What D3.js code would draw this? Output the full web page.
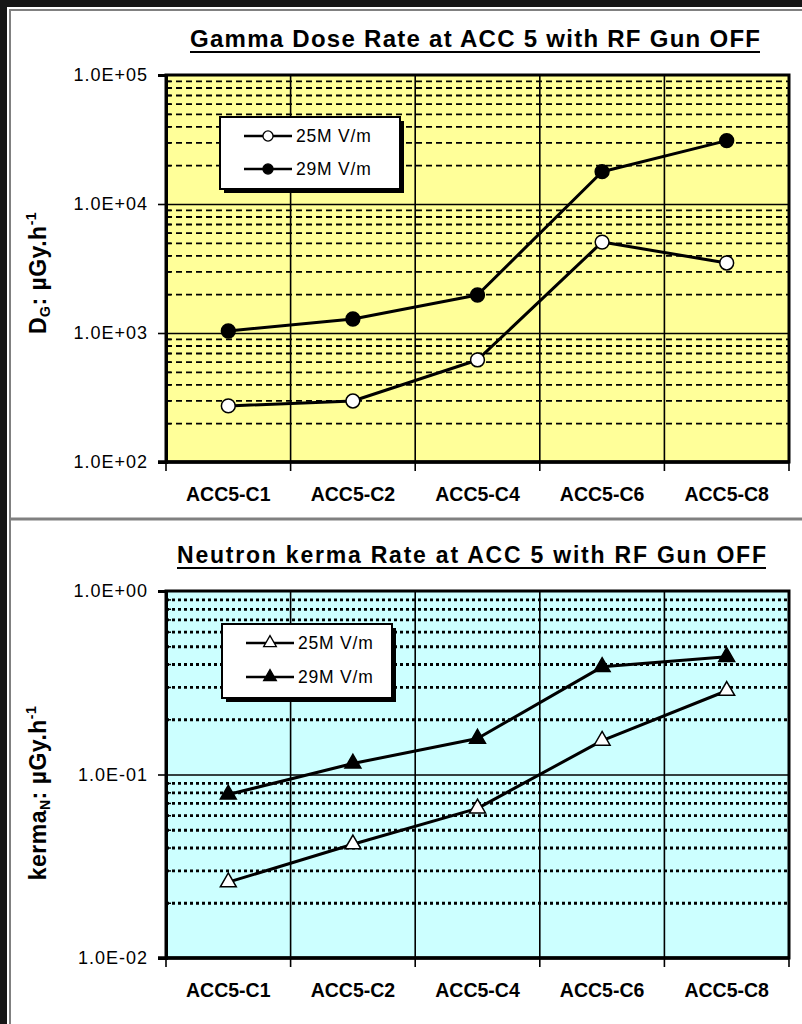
<!DOCTYPE html>
<html>
<head>
<meta charset="utf-8">
<script src="https://cdn.jsdelivr.net/npm/d3@7"></script>
<style>
html,body{margin:0;padding:0;background:#161616;}
svg{display:block;}
text{font-family:"Liberation Sans",Arial,sans-serif;fill:#000;}
</style>
</head>
<body>
<script>
// ---------------- data ----------------
const categories = ["ACC5-C1","ACC5-C2","ACC5-C4","ACC5-C6","ACC5-C8"];
const seriesNames = ["25M V/m","29M V/m"];
const gamma25 = [272, 297, 618, 5070, 3490];
const gamma29 = [1037, 1284, 1971, 17800, 31000];
const neutron25 = [0.0259, 0.0417, 0.0654, 0.153, 0.286];
const neutron29 = [0.0778, 0.1148, 0.157, 0.386, 0.438];
const gammaTickValues = [1e2, 1e3, 1e4, 1e5];
const gammaTickLabels = ["1.0E+02","1.0E+03","1.0E+04","1.0E+05"];
const neutronTickValues = [1e-2, 1e-1, 1e0];
const neutronTickLabels = ["1.0E-02","1.0E-01","1.0E+00"];
const titles = ["Gamma Dose Rate at ACC 5 with RF Gun OFF","Neutron kerma Rate at ACC 5 with RF Gun OFF"];

// ---------------- page ----------------
const W = 802, H = 1024;
const svg = d3.select("body").append("svg").attr("width", W).attr("height", H);
svg.append("rect").attr("width", W).attr("height", H).attr("fill", "#161616");
svg.append("rect").attr("x", 7).attr("y", 7).attr("width", W - 7).attr("height", H - 7).attr("fill", "#fff");
svg.append("line").attr("x1", 10).attr("x2", 10).attr("y1", 9).attr("y2", H).attr("stroke", "#808080").attr("stroke-width", 2);
svg.append("line").attr("x1", 9).attr("x2", W).attr("y1", 10).attr("y2", 10).attr("stroke", "#808080").attr("stroke-width", 2);
svg.append("line").attr("x1", 9).attr("x2", W).attr("y1", 519).attr("y2", 519).attr("stroke", "#808080").attr("stroke-width", 3);

function drawChart(cfg) {
  const g = svg.append("g");
  const x = d3.scaleBand().domain(categories).range([166, 789]).padding(0);
  const y = d3.scaleLog().domain(cfg.domain).range([cfg.bottom, cfg.top]);
  const left = 166, right = 789, w = right - left;

  g.append("rect").attr("x", left).attr("y", cfg.top).attr("width", w).attr("height", cfg.bottom - cfg.top).attr("fill", cfg.bg);

  // minor values
  const minors = [];
  const lo = Math.round(Math.log10(cfg.domain[0])), hi = Math.round(Math.log10(cfg.domain[1]));
  for (let d = lo; d < hi; d++) for (let k = 2; k <= 9; k++) minors.push(k * Math.pow(10, d));
  const innerMajors = cfg.tickValues.slice(1, -1);

  // minor gridlines
  const gMinor = g.append("g").attr("transform", `translate(${left},0)`)
    .call(d3.axisLeft(y).tickValues(minors).tickSize(-w).tickFormat(""));
  gMinor.select(".domain").remove();
  gMinor.selectAll("line").attr("stroke", "#000").attr("stroke-width", cfg.minorWidth).attr("stroke-dasharray", cfg.dash);

  // major gridlines
  const gMajor = g.append("g").attr("transform", `translate(${left},0)`)
    .call(d3.axisLeft(y).tickValues(innerMajors).tickSize(-w).tickFormat(""));
  gMajor.select(".domain").remove();
  gMajor.selectAll("line").attr("stroke", "#000").attr("stroke-width", 1.6);

  // vertical gridlines at category boundaries
  const bounds = categories.slice(1).map(c => x(c));
  g.append("g").selectAll("line").data(bounds).join("line")
    .attr("x1", d => d).attr("x2", d => d).attr("y1", cfg.top).attr("y2", cfg.bottom)
    .attr("stroke", "#000").attr("stroke-width", 1.6);

  // plot border
  g.append("rect").attr("x", left).attr("y", cfg.top).attr("width", w).attr("height", cfg.bottom - cfg.top)
    .attr("fill", "none").attr("stroke", "#000").attr("stroke-width", 3);

  // minor ticks inside
  const gMinTick = g.append("g").attr("transform", `translate(${left},0)`)
    .call(d3.axisRight(y).tickValues(minors).tickSize(5).tickFormat(""));
  gMinTick.select(".domain").remove();
  gMinTick.selectAll("line").attr("stroke", "#000").attr("stroke-width", 1.5);

  // y axis with labels
  const gy = g.append("g").attr("transform", `translate(${left},0)`)
    .call(d3.axisLeft(y).tickValues(cfg.tickValues).tickSize(8).tickPadding(10)
      .tickFormat((d, i) => cfg.tickLabels[i]));
  gy.select(".domain").attr("stroke", "#000").attr("stroke-width", 3);
  gy.selectAll("line").attr("stroke", "#000").attr("stroke-width", 1.6);
  gy.selectAll("text").attr("font-size", 18).attr("letter-spacing", "1px")
    .attr("font-family", '"Liberation Sans",Arial,sans-serif').attr("fill", "#000");

  // x axis: ticks at boundaries, labels centered
  const boundsAll = categories.map(c => x(c)).concat([right]);
  g.append("g").selectAll("line").data(boundsAll).join("line")
    .attr("x1", d => d).attr("x2", d => d).attr("y1", cfg.bottom).attr("y2", cfg.bottom + 9)
    .attr("stroke", "#000").attr("stroke-width", 1.6);
  g.append("line").attr("x1", left - 8).attr("x2", right).attr("y1", cfg.bottom).attr("y2", cfg.bottom)
    .attr("stroke", "#000").attr("stroke-width", 3.5);
  g.append("g").selectAll("text").data(categories).join("text")
    .attr("x", d => x(d) + x.bandwidth() / 2).attr("y", cfg.bottom + 32).attr("dy", "0.35em")
    .attr("text-anchor", "middle").attr("font-weight", "bold").attr("font-size", 19.5)
    .text(d => d);

  // title
  g.append("text").attr("x", cfg.titleX).attr("y", cfg.titleY)
    .attr("font-weight", "bold").attr("font-size", cfg.titleSize)
    .attr("textLength", cfg.titleLen).attr("lengthAdjust", "spacing")
    .text(cfg.title);
  g.append("line").attr("x1", cfg.titleX).attr("x2", cfg.titleX + cfg.titleLen)
    .attr("y1", cfg.titleY + 5).attr("y2", cfg.titleY + 5).attr("stroke", "#000").attr("stroke-width", 2.2);

  // y title
  const yt = g.append("text").attr("transform", `translate(46,${cfg.yTitleC}) rotate(-90)`)
    .attr("text-anchor", "middle").attr("font-weight", "bold").attr("font-size", 23)
    .attr("letter-spacing", "0.5px");
  yt.append("tspan").text(cfg.yMain);
  yt.append("tspan").attr("font-size", 14).attr("dy", 4).text(cfg.ySub);
  yt.append("tspan").attr("dy", -4).text(": \u00b5Gy.h");
  yt.append("tspan").attr("font-size", 14).attr("dy", -10).text("-1");

  // series
  const line = d3.line().x((d, i) => x(categories[i]) + x.bandwidth() / 2).y(d => y(d));
  cfg.series.forEach((s, si) => {
    g.append("path").datum(s).attr("d", line).attr("fill", "none")
      .attr("stroke", "#000").attr("stroke-width", 3).attr("stroke-linejoin", "round");
    g.append("g").selectAll("path").data(s).join("path")
      .attr("transform", (d, i) => `translate(${x(categories[i]) + x.bandwidth() / 2},${y(d)})`)
      .attr("d", d3.symbol().type(cfg.symbol).size(cfg.symSize))
      .attr("fill", si === 0 ? "#fff" : "#000").attr("stroke", "#000").attr("stroke-width", 1.5);
  });

  // legend
  const L = cfg.legend;
  g.append("rect").attr("x", L.x + 4).attr("y", L.y + 4).attr("width", L.w).attr("height", L.h).attr("fill", "#000");
  g.append("rect").attr("x", L.x).attr("y", L.y).attr("width", L.w).attr("height", L.h)
    .attr("fill", "#fff").attr("stroke", "#000").attr("stroke-width", 2);
  seriesNames.forEach((n, si) => {
    const yy = L.y + L.rowY[si];
    g.append("line").attr("x1", L.x + 24).attr("x2", L.x + 72).attr("y1", yy).attr("y2", yy)
      .attr("stroke", "#000").attr("stroke-width", 2.5);
    g.append("path").attr("transform", `translate(${L.x + 48},${yy})`)
      .attr("d", d3.symbol().type(cfg.symbol).size(cfg.legSymSize))
      .attr("fill", si === 0 ? "#fff" : "#000").attr("stroke", "#000").attr("stroke-width", 1.3);
    g.append("text").attr("x", L.x + 76).attr("y", yy).attr("dy", "0.35em")
      .attr("font-size", 17.5).attr("letter-spacing", "0.8px").text(n);
  });
}

drawChart({
  domain: [1e2, 1e5], top: 75, bottom: 462, bg: "#ffff99",
  tickValues: gammaTickValues, tickLabels: gammaTickLabels,
  dash: "6,4", minorWidth: 1.8,
  series: [gamma25, gamma29], symbol: d3.symbolCircle, symSize: 150, legSymSize: 80,
  title: titles[0], titleX: 190, titleY: 47, titleLen: 570, titleSize: 24,
  yMain: "D", ySub: "G", yTitleC: 273,
  legend: { x: 220, y: 117, w: 180, h: 72, rowY: [19, 52] }
});

drawChart({
  domain: [1e-2, 1e0], top: 591, bottom: 958, bg: "#ccffff",
  tickValues: neutronTickValues, tickLabels: neutronTickLabels,
  dash: "3,3", minorWidth: 2.8,
  series: [neutron25, neutron29], symbol: d3.symbolTriangle, symSize: 110, legSymSize: 70,
  title: titles[1], titleX: 177, titleY: 563, titleLen: 589, titleSize: 23,
  yMain: "kerma", ySub: "N", yTitleC: 793,
  legend: { x: 222, y: 624, w: 170, h: 74, rowY: [19, 53] }
});
</script>
</body>
</html>
